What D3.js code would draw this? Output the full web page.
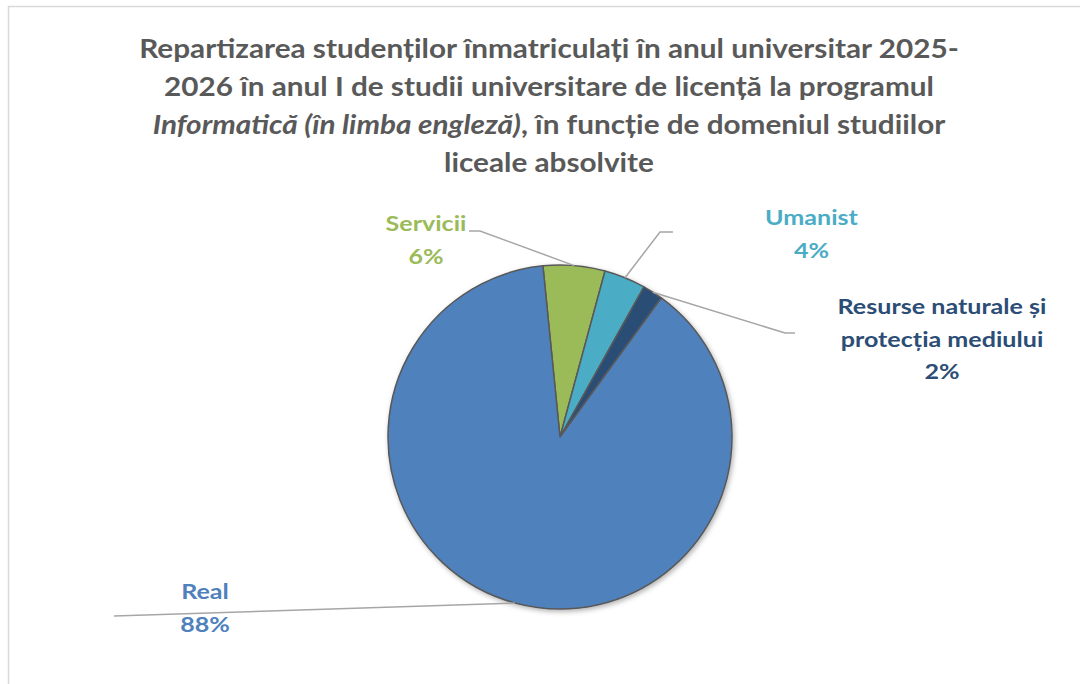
<!DOCTYPE html>
<html>
<head>
<meta charset="utf-8">
<script src="https://cdn.jsdelivr.net/npm/d3@7"></script>
<style>
  html, body { margin: 0; padding: 0; background: #ffffff; }
  svg { display: block; }
  text { font-family: Lato, "Open Sans", "Noto Sans", sans-serif; font-weight: bold; }
</style>
</head>
<body>
<script>
// ---- data ----
const categories = ["Servicii", "Umanist", "Resurse naturale și protecția mediului", "Real"];
const labelLines = [["Servicii"], ["Umanist"], ["Resurse naturale și", "protecția mediului"], ["Real"]];
const shares = [5.8, 3.9, 1.9, 88.4];
const colors = ["#9BBB59", "#4BACC6", "#2C4D75", "#4F81BD"];
const titleLines = [
  [{t: "Repartizarea studenților înmatriculați în anul universitar 2025-", i: false}],
  [{t: "2026 în anul I de studii universitare de licență la programul", i: false}],
  [{t: "Informatică (în limba engleză)", i: true}, {t: ", în funcție de domeniul studiilor", i: false}],
  [{t: "liceale absolvite", i: false}]
];

// ---- layout ----
const W = 1080, H = 684;
const cx = 560, cy = 437, R = 172;
const startDeg = -5.7;
const svg = d3.select("body").append("svg").attr("width", W).attr("height", H);

const defs = svg.append("defs");
const f = defs.append("filter").attr("id", "sh").attr("x", "-10%").attr("y", "-10%").attr("width", "120%").attr("height", "120%");
f.append("feDropShadow").attr("dx", 1.5).attr("dy", 2).attr("stdDeviation", 2.5)
  .attr("flood-color", "#000").attr("flood-opacity", 0.3);

// frame
svg.append("rect").attr("x", 8.5).attr("y", 6.5).attr("width", 1100).attr("height", 700)
  .attr("fill", "none").attr("stroke", "#d9d9d9").attr("stroke-width", 1.5);

// title
const titleCx = 549, titleBase = 57.5, titleStep = 38.3, titleTargetW = 820;
const tg = svg.append("g");
const titleTexts = titleLines.map((parts, i) => {
  const g = tg.append("g").attr("transform", `translate(${titleCx},${titleBase + i * titleStep})`);
  const t = g.append("text").attr("text-anchor", "middle").attr("font-size", 26.5).attr("fill", "#595959");
  parts.forEach(p => t.append("tspan").attr("font-style", p.i ? "italic" : "normal").text(p.t));
  return {g, t};
});
const w0 = titleTexts[0].t.node().getComputedTextLength();
const sTitle = titleTargetW / w0;
titleTexts.forEach(({g}, i) => g.attr("transform", `translate(${titleCx},${titleBase + i * titleStep}) scale(${sTitle},1)`));

// pie
const pie = d3.pie().sort(null).value(d => d)
  .startAngle(startDeg * Math.PI / 180).endAngle(startDeg * Math.PI / 180 + 2 * Math.PI);
const arcs = pie(shares);
const arc = d3.arc().innerRadius(0).outerRadius(R);
const total = d3.sum(shares);

const pg = svg.append("g").attr("transform", `translate(${cx},${cy})`);
pg.append("g").attr("filter", "url(#sh)")
  .selectAll("path").data(arcs).join("path")
  .attr("d", arc).attr("fill", (d, i) => colors[i])
  .attr("stroke", "#595959").attr("stroke-width", 1.5).attr("stroke-linejoin", "round");

// labels and leader lines
const labelPos = [
  {x: 426, y: 231, lead: [[469, 231], [480, 231]]},
  {x: 811.5, y: 225, lead: [[673, 232], [660, 232]]},
  {x: 942, y: 314, lead: [[795, 333], [785, 333]]},
  {x: 205, y: 599, lead: [[114, 616]]}
];
const lineStep = 32.5;
const lg = svg.append("g");
arcs.forEach((d, i) => {
  const mid = (d.startAngle + d.endAngle) / 2;
  const ex = cx + R * Math.sin(mid), ey = cy - R * Math.cos(mid);
  const pts = labelPos[i].lead.concat([[ex, ey]]);
  lg.append("path").attr("d", d3.line()(pts)).attr("fill", "none")
    .attr("stroke", "#a6a6a6").attr("stroke-width", 1.5);
});
const labelTexts = [];
arcs.forEach((d, i) => {
  const pct = Math.round(d.data / total * 100) + "%";
  const lines = labelLines[i].concat([pct]);
  lines.forEach((s, j) => {
    const g = lg.append("g").attr("transform", `translate(${labelPos[i].x},${labelPos[i].y + j * lineStep})`);
    const t = g.append("text").attr("text-anchor", "middle").attr("font-size", 20.5)
      .attr("fill", colors[i]).text(s);
    labelTexts.push({g, t, x: labelPos[i].x, y: labelPos[i].y + j * lineStep, s});
  });
});
const ref = labelTexts.find(o => o.s === "Resurse naturale și");
const sLab = 209 / ref.t.node().getComputedTextLength();
labelTexts.forEach(o => o.g.attr("transform", `translate(${o.x},${o.y}) scale(${sLab},1)`));
</script>
</body>
</html>
